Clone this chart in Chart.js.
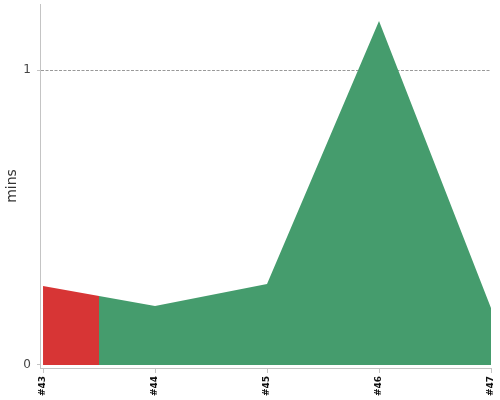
<!DOCTYPE html>
<html>
<head>
<meta charset="utf-8">
<script src="https://cdn.jsdelivr.net/npm/chart.js@4/dist/chart.umd.min.js"></script>
<style>
  html, body { margin: 0; padding: 0; background: #fff; }
  #wrap { width: 500px; height: 400px; }
</style>
</head>
<body>
<div id="wrap"><canvas id="buildChart"></canvas></div>
<script>
// build numbers, duration in minutes, and result of each build
const builds = [43, 44, 45, 46, 47];
const durations = [0.268, 0.2, 0.275, 1.166, 0.193];
const results = ['failure', 'success', 'success', 'success', 'success'];
const yTicks = [0, 1];

const resultColors = {
    success: '#459c6d',
    failure: '#d73535'
};

// each build colours the area from halfway to its left neighbour to halfway to its right one
function buildGradient(context) {
    const chart = context.chart;
    const area = chart.chartArea;
    if (!area) return resultColors.success;
    const x = chart.scales.x;
    const width = area.right - area.left;
    const grad = chart.ctx.createLinearGradient(area.left, 0, area.right, 0);
    const frac = px => Math.min(1, Math.max(0, (px - area.left) / width));
    builds.forEach((b, i) => {
        const here = x.getPixelForValue(b);
        const from = i === 0 ? area.left : (x.getPixelForValue(builds[i - 1]) + here) / 2;
        const to = i === builds.length - 1 ? area.right : (x.getPixelForValue(builds[i + 1]) + here) / 2;
        const color = resultColors[results[i]];
        grad.addColorStop(frac(from), color);
        grad.addColorStop(frac(to), color);
    });
    return grad;
}

const ctx = document.getElementById('buildChart').getContext('2d');
new Chart(ctx, {
    type: 'line',
    data: {
        datasets: [{
            label: 'Build duration',
            data: builds.map((b, i) => ({ x: b, y: durations[i] })),
            fill: 'origin',
            backgroundColor: buildGradient,
            borderWidth: 0,
            pointRadius: 0,
            tension: 0
        }]
    },
    options: {
        responsive: true,
        maintainAspectRatio: false,
        animation: false,
        layout: { padding: { top: 4, right: 9, left: 0, bottom: 0 } },
        plugins: {
            legend: { display: false },
            tooltip: { enabled: false }
        },
        scales: {
            x: {
                type: 'linear',
                min: 42.973,
                max: 47,
                afterBuildTicks: scale => { scale.ticks = builds.map(v => ({ value: v })); },
                afterFit: scale => {
                    scale.height = 32;
                    scale.paddingLeft = 0;
                    scale.paddingRight = 0;
                },
                grid: {
                    drawOnChartArea: false,
                    drawTicks: true,
                    tickLength: 5,
                    tickColor: '#c4c4c4'
                },
                border: { color: '#c4c4c4', width: 1 },
                ticks: {
                    autoSkip: false,
                    minRotation: 90,
                    maxRotation: 90,
                    padding: 3,
                    color: '#111',
                    font: { family: 'DejaVu Sans', size: 9, weight: 'bold' },
                    callback: value => '#' + value
                }
            },
            y: {
                min: -0.0102,
                max: 1.224,
                afterBuildTicks: scale => { scale.ticks = yTicks.map(v => ({ value: v })); },
                afterFit: scale => {
                    scale.width = 40;
                    scale.paddingTop = 0;
                    scale.paddingBottom = 0;
                },
                grid: {
                    color: c => (c.tick && c.tick.value === 0 ? 'rgba(0,0,0,0)' : '#999'),
                    tickColor: '#c4c4c4',
                    tickLength: 3,
                    tickBorderDash: []
                },
                border: { color: '#c4c4c4', width: 1, dash: [3, 1.5] },
                ticks: {
                    padding: 6,
                    color: '#444',
                    font: { family: 'DejaVu Sans', size: 12 }
                },
                title: {
                    display: true,
                    text: 'mins',
                    color: '#333',
                    font: { family: 'DejaVu Sans', size: 14 }
                }
            }
        }
    }
});
</script>
</body>
</html>
